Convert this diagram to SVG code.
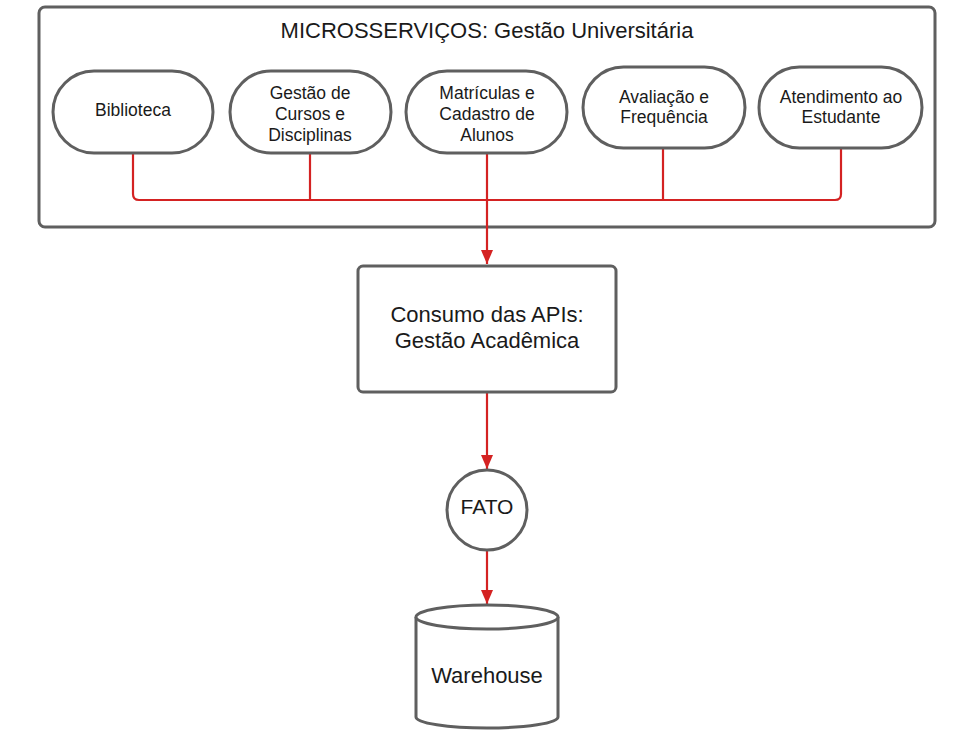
<svg xmlns="http://www.w3.org/2000/svg" width="980" height="735" viewBox="0 0 980 735">
<defs>
<style>
.box{fill:#fff;stroke:#5f5f5f;stroke-width:3}
.t{font-family:"Liberation Sans",Arial,sans-serif;fill:#1a1a1a;text-anchor:middle}
.s{font-size:17.5px}
.l{font-size:22px}
.c{fill:none;stroke:#d42222;stroke-width:2.2}
</style>
<marker id="ah" markerWidth="14" markerHeight="12" refX="14" refY="6" orient="auto" markerUnits="userSpaceOnUse">
<path d="M0,0 L14,6 L0,12 Z" fill="#d42222"/>
</marker>
</defs>
<rect width="980" height="735" fill="#fff"/>
<g id="container">
<rect class="box" x="39" y="7" width="896" height="220" rx="6"/>
<text class="t l" x="487" y="38">MICROSSERVIÇOS: Gestão Universitária</text>
</g>
<g id="connectors">
<path class="c" d="M133,153 V194 Q133,200 139,200 H835 Q841,200 841,194 V148"/>
<path class="c" d="M310,153 V200"/>
<path class="c" d="M663,148 V200"/>
<path class="c" d="M487,153 V264" marker-end="url(#ah)"/>
<path class="c" d="M487,392 V469" marker-end="url(#ah)"/>
<path class="c" d="M487,550 V604" marker-end="url(#ah)"/>
</g>
<g id="biblioteca">
<rect class="box" x="53" y="71" width="160" height="82" rx="41"/>
<text class="t s" x="133" y="116">Biblioteca</text>
</g>
<g id="gestao-cursos">
<rect class="box" x="230" y="71" width="161" height="82" rx="41"/>
<text class="t s" x="310" y="99">Gestão de</text>
<text class="t s" x="310" y="120">Cursos e</text>
<text class="t s" x="310" y="141">Disciplinas</text>
</g>
<g id="matriculas">
<rect class="box" x="406" y="71" width="161" height="82" rx="41"/>
<text class="t s" x="487" y="99">Matrículas e</text>
<text class="t s" x="487" y="120">Cadastro de</text>
<text class="t s" x="487" y="141">Alunos</text>
</g>
<g id="avaliacao">
<rect class="box" x="583" y="67" width="162" height="81" rx="40.5"/>
<text class="t s" x="664" y="103">Avaliação e</text>
<text class="t s" x="664" y="123">Frequência</text>
</g>
<g id="atendimento">
<rect class="box" x="759" y="67" width="163" height="81" rx="40.5"/>
<text class="t s" x="841" y="103">Atendimento ao</text>
<text class="t s" x="841" y="123">Estudante</text>
</g>
<g id="consumo">
<rect class="box" x="358" y="266" width="258" height="126" rx="5"/>
<text class="t l" x="487" y="322">Consumo das APIs:</text>
<text class="t l" x="487" y="348">Gestão Acadêmica</text>
</g>
<g id="fato">
<circle class="box" cx="487" cy="510" r="40"/>
<text class="t" x="487" y="514" font-size="21">FATO</text>
</g>
<g id="warehouse">
<path class="box" d="M416,617 V717 A71,11 0 0 0 558,717 V617"/>
<ellipse class="box" cx="487" cy="617" rx="71" ry="12"/>
<text class="t l" x="487" y="683">Warehouse</text>
</g>
</svg>
